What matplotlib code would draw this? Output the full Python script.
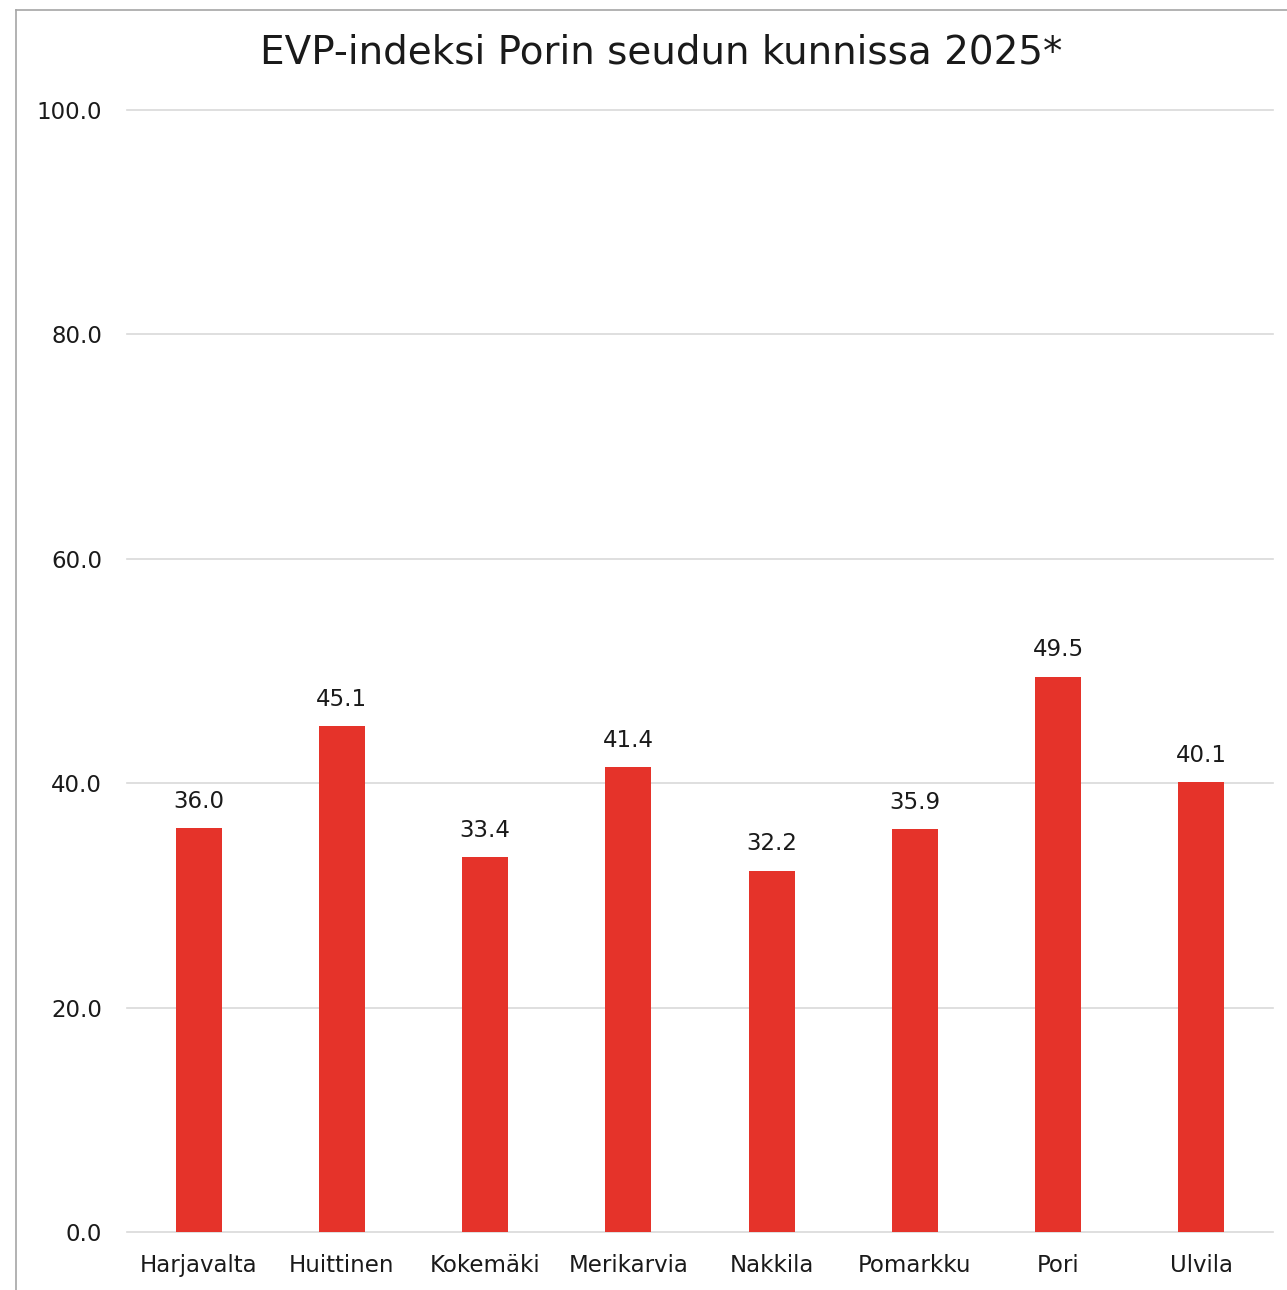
import matplotlib.pyplot as plt
from matplotlib.lines import Line2D

kunnat = ['Harjavalta', 'Huittinen', 'Kokemäki', 'Merikarvia', 'Nakkila',
          'Pomarkku', 'Pori', 'Ulvila']
arvot = [36.0, 45.1, 33.4, 41.4, 32.2, 35.9, 49.5, 40.1]
y_ticks = [0, 20, 40, 60, 80, 100]
otsikko = 'EVP-indeksi Porin seudun kunnissa 2025*'

plt.rcParams['font.family'] = ['DejaVu Sans']

W, H = 1287, 1290
fig = plt.figure(figsize=(W / 100, H / 100), dpi=100)
ax = fig.add_axes([127 / W, 1 - 1232 / H, (1273 - 127) / W, (1232 - 110) / H])

x = range(len(kunnat))
bars = ax.bar(x, arvot, width=0.32, color='#E5332A', zorder=3)
for b, v in zip(bars, arvot):
    ax.annotate(f'{v:.1f}', (b.get_x() + b.get_width() / 2, v),
                xytext=(0, 11), textcoords='offset points',
                ha='center', va='bottom', fontsize=16.5, color='#1a1a1a')

ax.set_xlim(-0.5, len(kunnat) - 0.5)
ax.set_ylim(0, 100)
ax.set_yticks(y_ticks)
ax.set_yticklabels([f'{t:.1f}' for t in y_ticks])
ax.set_xticks(list(x))
ax.set_xticklabels(kunnat)
ax.tick_params(axis='y', length=0, pad=18, labelsize=16.5, labelcolor='#1a1a1a')
ax.tick_params(axis='x', length=0, pad=16, labelsize=16.5, labelcolor='#1a1a1a')
ax.grid(axis='y', color='#d9d9d9', linewidth=1.2, zorder=0)
for l in ax.get_ygridlines():
    l.set_clip_on(False)
for s in ax.spines.values():
    s.set_visible(False)

fig.text(0.5 * (246 + 1077) / W, 1 - 52 / H, otsikko, ha='center', va='center',
         fontsize=28, color='#1a1a1a')

# kehys
fig.add_artist(Line2D([16 / W, 16 / W], [0, 1 - 10 / H], color='#a6a6a6', linewidth=1.2,
                      transform=fig.transFigure))
fig.add_artist(Line2D([16 / W, 1], [1 - 10 / H, 1 - 10 / H], color='#a6a6a6', linewidth=1.2,
                      transform=fig.transFigure))

plt.savefig('out.png', dpi=100)
